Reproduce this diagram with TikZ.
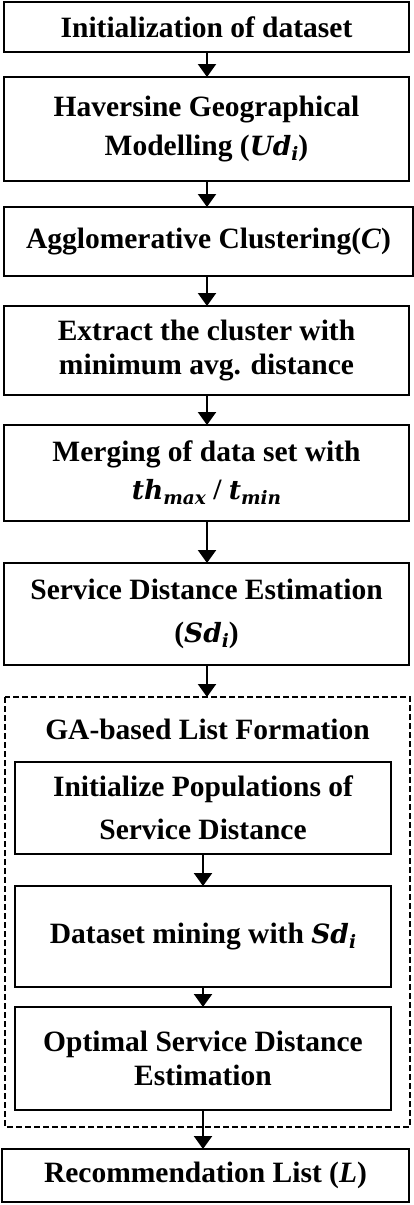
\documentclass[tikz,border=0pt]{standalone}
\usepackage{fontspec}
\setmainfont{Liberation Serif}
\newfontfamily\cmath{DejaVu Serif}
\usetikzlibrary{arrows.meta}
% bold italic symbol with an optional lowered subscript
\newcommand\sym[1]{{\cmath\bfseries\itshape\fontsize{26.5}{30}\selectfont #1}}
\newcommand\lowsub[1]{\raisebox{-0.35ex}{\cmath\bfseries\itshape\fontsize{18.5}{18}\selectfont #1}}
\begin{document}
\begin{tikzpicture}[x=1pt,y=-1pt,
  every node/.style={inner sep=0pt,outer sep=0pt},
  stepbox/.style={draw,line width=2.2pt,rectangle,align=center,
    font=\bfseries\fontsize{29.5}{34}\selectfont},
  flow/.style={line width=2.2pt,-{Triangle[length=13pt,width=18pt]}},
  groupbox/.style={draw,line width=1.9pt,dash pattern=on 6pt off 3pt}]
\useasboundingbox (0,0) rectangle (414,1205);

\node[stepbox,minimum width=405pt,minimum height=50pt] (init) at (206.5,27)
  {Initialization of dataset};
\node[stepbox,minimum width=405pt,minimum height=104pt] (hav) at (206.5,129)
  {Haversine Geographical\\[5pt] Modelling (\sym{Ud}\lowsub{i})};
\node[stepbox,minimum width=409pt,minimum height=69pt] (agg) at (208.5,241.5)
  {Agglomerative Clustering(\textit{C})};
\node[stepbox,minimum width=405pt,minimum height=89pt] (ext) at (206.5,350.5)
  {Extract the cluster with\\ minimum avg. distance};
\node[stepbox,minimum width=405pt,minimum height=96pt] (merge) at (206.5,473)
  {Merging of data set with\\[4pt] \sym{th}\lowsub{max} / \sym{t}\lowsub{min}};
\node[stepbox,minimum width=405pt,minimum height=102pt] (sde) at (206.5,614)
  {Service Distance Estimation\\[9pt] (\sym{Sd}\lowsub{i})};

% dashed group of the genetic-algorithm stages
\draw[groupbox] (5,697) rectangle (410,1127);
\node[font=\bfseries\fontsize{29.5}{34}\selectfont] (ga) at (207.5,729)
  {GA-based List Formation};
\coordinate (gatop) at (207,697);

\node[stepbox,minimum width=376pt,minimum height=92pt] (pop) at (203,808)
  {Initialize Populations of\\[9pt] Service Distance};
\node[stepbox,minimum width=376pt,minimum height=101pt] (mine) at (203,936.5)
  {Dataset mining with \sym{Sd}\lowsub{i}};
\node[stepbox,minimum width=376pt,minimum height=103pt] (opt) at (203,1058.5)
  {Optimal Service Distance\\[0pt] Estimation};

\node[stepbox,minimum width=407pt,minimum height=53pt] (rec) at (205.5,1175.5)
  {Recommendation List (\textit{L})};

\draw[flow] (init.south -| 207,0) -- (hav.north -| 207,0);
\draw[flow] (hav.south -| 207,0) -- (agg.north -| 207,0);
\draw[flow] (agg.south -| 207,0) -- (ext.north -| 207,0);
\draw[flow] (ext.south -| 207,0) -- (merge.north -| 207,0);
\draw[flow] (merge.south -| 207,0) -- (sde.north -| 207,0);
\draw[flow] (sde.south -| 207,0) -- (gatop);
\draw[flow] (pop) -- (mine);
\draw[flow] (mine) -- (opt);
\draw[flow] (opt.south) -- (rec.north -| opt.south);
\end{tikzpicture}
\end{document}
